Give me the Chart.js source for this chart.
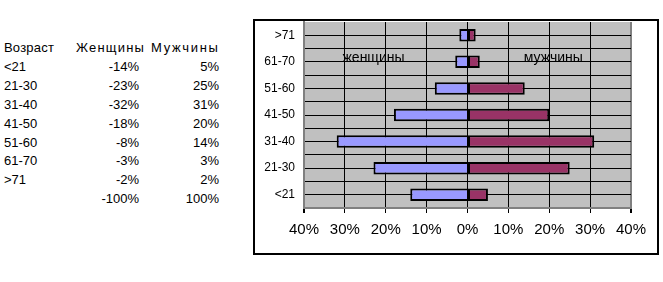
<!DOCTYPE html>
<html>
<head>
<meta charset="utf-8">
<script src="https://cdn.jsdelivr.net/npm/chart.js@4"></script>
<style>
    body { margin: 0; background: #fff; width: 663px; height: 282px; overflow: hidden; position: relative; font-family: "Liberation Sans", Arial, sans-serif; }
    #table div { position: absolute; height: 19px; line-height: 19px; font-size: 13px; color: #000; white-space: nowrap; }
    #box { position: absolute; left: 253px; top: 19px; width: 402px; height: 232px; border: 2px solid #000; }
    #box canvas { display: block; }
</style>
</head>
<body>
<div id="table"></div>
<div id="box"><canvas id="pyramid" width="402" height="232"></canvas></div>
<script>
// Data
const ageGroups = ['<21', '21-30', '31-40', '41-50', '51-60', '61-70', '>71'];
const womenValues = [-14, -23, -32, -18, -8, -3, -2];
const menValues = [5, 25, 31, 20, 14, 3, 2];
const tableHeaders = ['Возраст', 'Женщины', 'Мужчины'];
const seriesNames = ['женщины', 'мужчины'];
const axisMin = -40;
const axisMax = 40;
const axisStep = 10;

document.addEventListener('DOMContentLoaded', function () {
    // Table on the left
    const table = document.getElementById('table');
    function cell(text, left, width, align, row, spacing) {
        const d = document.createElement('div');
        d.textContent = text;
        d.style.left = left + 'px';
        d.style.width = width + 'px';
        d.style.textAlign = align;
        d.style.top = (38 + row * 18.9) + 'px';
        if (spacing) d.style.letterSpacing = spacing + 'px';
        table.appendChild(d);
    }
    cell(tableHeaders[0], 4, 70, 'left', 0, 0.2);
    cell(tableHeaders[1], 76, 75, 'left', 0, 1.2);
    cell(tableHeaders[2], 151, 80, 'left', 0, 1.7);
    ageGroups.forEach(function (g, i) {
        cell(g, 4, 60, 'left', i + 1);
        cell(womenValues[i] + '%', 77, 62, 'right', i + 1);
        cell(menValues[i] + '%', 150, 69, 'right', i + 1);
    });
    const sum = arr => arr.reduce((a, b) => a + b, 0);
    cell(sum(womenValues) + '%', 77, 62, 'right', ageGroups.length + 1);
    cell(sum(menValues) + '%', 150, 69, 'right', ageGroups.length + 1);

    // Gray plot area
    const plotBackground = {
        id: 'plotBackground',
        beforeDraw(chart) {
            const a = chart.chartArea;
            const ctx = chart.ctx;
            ctx.save();
            ctx.fillStyle = '#C0C0C0';
            ctx.fillRect(a.left, a.top, a.right - a.left, a.bottom - a.top);
            ctx.restore();
        }
    };

    // Series names written inside the plot
    const seriesLabels = {
        id: 'seriesLabels',
        afterDatasetsDraw(chart) {
            const ctx = chart.ctx;
            const x = chart.scales.x;
            const y = chart.scales.y;
            const yPos = y.getPixelForValue(5) - 4;
            ctx.save();
            ctx.font = '14px "Liberation Sans", Arial, sans-serif';
            ctx.fillStyle = '#000';
            ctx.textAlign = 'center';
            ctx.textBaseline = 'middle';
            ctx.fillText(seriesNames[0], x.getPixelForValue(-23), yPos);
            ctx.fillText(seriesNames[1], x.getPixelForValue(21), yPos);
            ctx.restore();
        }
    };

    const barStyle = {
        borderColor: '#000',
        borderWidth: 2,
        categoryPercentage: 1,
        barPercentage: 0.47
    };

    new Chart(document.getElementById('pyramid').getContext('2d'), {
        type: 'bar',
        data: {
            labels: ageGroups,
            datasets: [
                Object.assign({ label: seriesNames[0], data: womenValues, backgroundColor: '#9999FF', borderSkipped: 'start' }, barStyle),
                Object.assign({ label: seriesNames[1], data: menValues, backgroundColor: '#993366', borderSkipped: false }, barStyle)
            ]
        },
        options: {
            indexAxis: 'y',
            responsive: false,
            animation: false,
            layout: { padding: { left: 0, right: 26, top: 1, bottom: 0 } },
            plugins: {
                legend: { display: false },
                tooltip: { enabled: false }
            },
            scales: {
                x: {
                    stacked: true,
                    min: axisMin,
                    max: axisMax,
                    ticks: {
                        stepSize: axisStep,
                        color: '#000',
                        font: { family: '"Liberation Sans", Arial, sans-serif', size: 15 },
                        padding: 8,
                        maxRotation: 0,
                        callback: v => Math.abs(v) + '%'
                    },
                    grid: {
                        color: c => (c.index === 0 || c.index === 8) ? '#808080' : '#000',
                        lineWidth: c => (c.index === 0 || c.index === 8) ? 2 : 1,
                        tickColor: '#000',
                        tickLength: 5
                    },
                    border: { color: '#808080', width: 2 },
                    afterFit: s => { s.height = 45; }
                },
                y: {
                    stacked: true,
                    reverse: true,
                    ticks: {
                        color: '#000',
                        font: { family: '"Liberation Sans", Arial, sans-serif', size: 12 },
                        padding: 9
                    },
                    grid: {
                        offset: true,
                        drawTicks: false,
                        color: c => (c.type === 'tick' && c.index > 0) ? '#000' : 'rgba(0,0,0,0)'
                    },
                    border: { color: '#808080', width: 2 },
                    afterFit: s => { s.width = 49; s.paddingTop = 0; s.paddingBottom = 0; }
                },
                yc: {
                    type: 'category',
                    axis: 'y',
                    position: 'left',
                    labels: ageGroups,
                    reverse: true,
                    offset: true,
                    ticks: { display: false },
                    grid: { offset: false, drawTicks: false, color: '#000' },
                    border: { display: false },
                    afterFit: s => { s.width = 0; s.paddingTop = 0; s.paddingBottom = 0; }
                }
            }
        },
        plugins: [plotBackground, seriesLabels]
    });
});
</script>
</body>
</html>
